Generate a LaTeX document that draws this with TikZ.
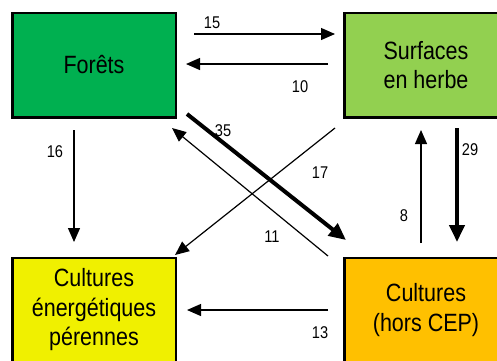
\documentclass[tikz,border=0pt]{standalone}
\usepackage{fontspec}
\setmainfont{Liberation Sans}[FakeStretch=0.86]
\usetikzlibrary{arrows.meta}
\definecolor{foret}{HTML}{00B050}
\definecolor{herbe}{HTML}{92D050}
\definecolor{cep}{HTML}{F0F000}
\definecolor{culture}{HTML}{FFC000}

\begin{document}
\begin{tikzpicture}[x = 1pt, y = -1pt,
	box/.style = {draw, line width = 2.5pt, minimum width = 163.5pt, minimum height = 104.5pt, inner sep = 0pt, align = center, font = \fontsize{25}{29.5}\selectfont},
	flow/.style = {line width = 1.2pt, -{Triangle[length=14pt, width=12pt]}},
	bigflow/.style = {line width = 4pt, -{Triangle[length=17pt, width=15pt]}},
	num/.style = {inner sep = 0pt, font = \fontsize{17}{17}\selectfont}]
	\clip (0,0) rectangle (497,360);
	\node[box, fill = foret] (F) at (94,65) {Forêts};
	\node[box, fill = herbe] (S) at (426,65) {Surfaces\\en herbe};
	\node[box, fill = cep] (E) at (94,310) {Cultures\\énergétiques\\pérennes};
	\node[box, fill = culture] (C) at (426,310) {Cultures\\(hors CEP)};
	\coordinate (FS1) at (194,34);   \coordinate (FS2) at (335,34);
	\coordinate (SF1) at (328,64);   \coordinate (SF2) at (186,64);
	\coordinate (FE1) at (74,130);   \coordinate (FE2) at (74,242);
	\coordinate (FC1) at (187,114);  \coordinate (FC2) at (346,240);
	\coordinate (CF1) at (328,256);  \coordinate (CF2) at (172,128);
	\coordinate (SE1) at (335,128);  \coordinate (SE2) at (175,255);
	\coordinate (CS1) at (421,243);  \coordinate (CS2) at (421,130);
	\coordinate (SC1) at (457,128);  \coordinate (SC2) at (457,242);
	\coordinate (CE1) at (328,310);  \coordinate (CE2) at (187,310);
	\draw[flow] (FS1) -- (FS2);
	\draw[flow] (SF1) -- (SF2);
	\draw[flow] (FE1) -- (FE2);
	\draw[bigflow] (FC1) -- (FC2);
	\draw[flow] (CF1) -- (CF2);
	\draw[flow] (SE1) -- (SE2);
	\draw[flow] (CS1) -- (CS2);
	\draw[bigflow] (SC1) -- (SC2);
	\draw[flow] (CE1) -- (CE2);
	\node[num] (n15) at (212,22.5) {15};
	\node[num] (n10) at (300,87) {10};
	\node[num] (n16) at (55,152) {16};
	\node[num] (n35) at (223,131) {35};
	\node[num] (n11) at (272,237) {11};
	\node[num] (n17) at (320,173) {17};
	\node[num] (n8) at (404,216) {8};
	\node[num] (n29) at (470,150) {29};
	\node[num] (n13) at (320,333) {13};
\end{tikzpicture}
\end{document}
